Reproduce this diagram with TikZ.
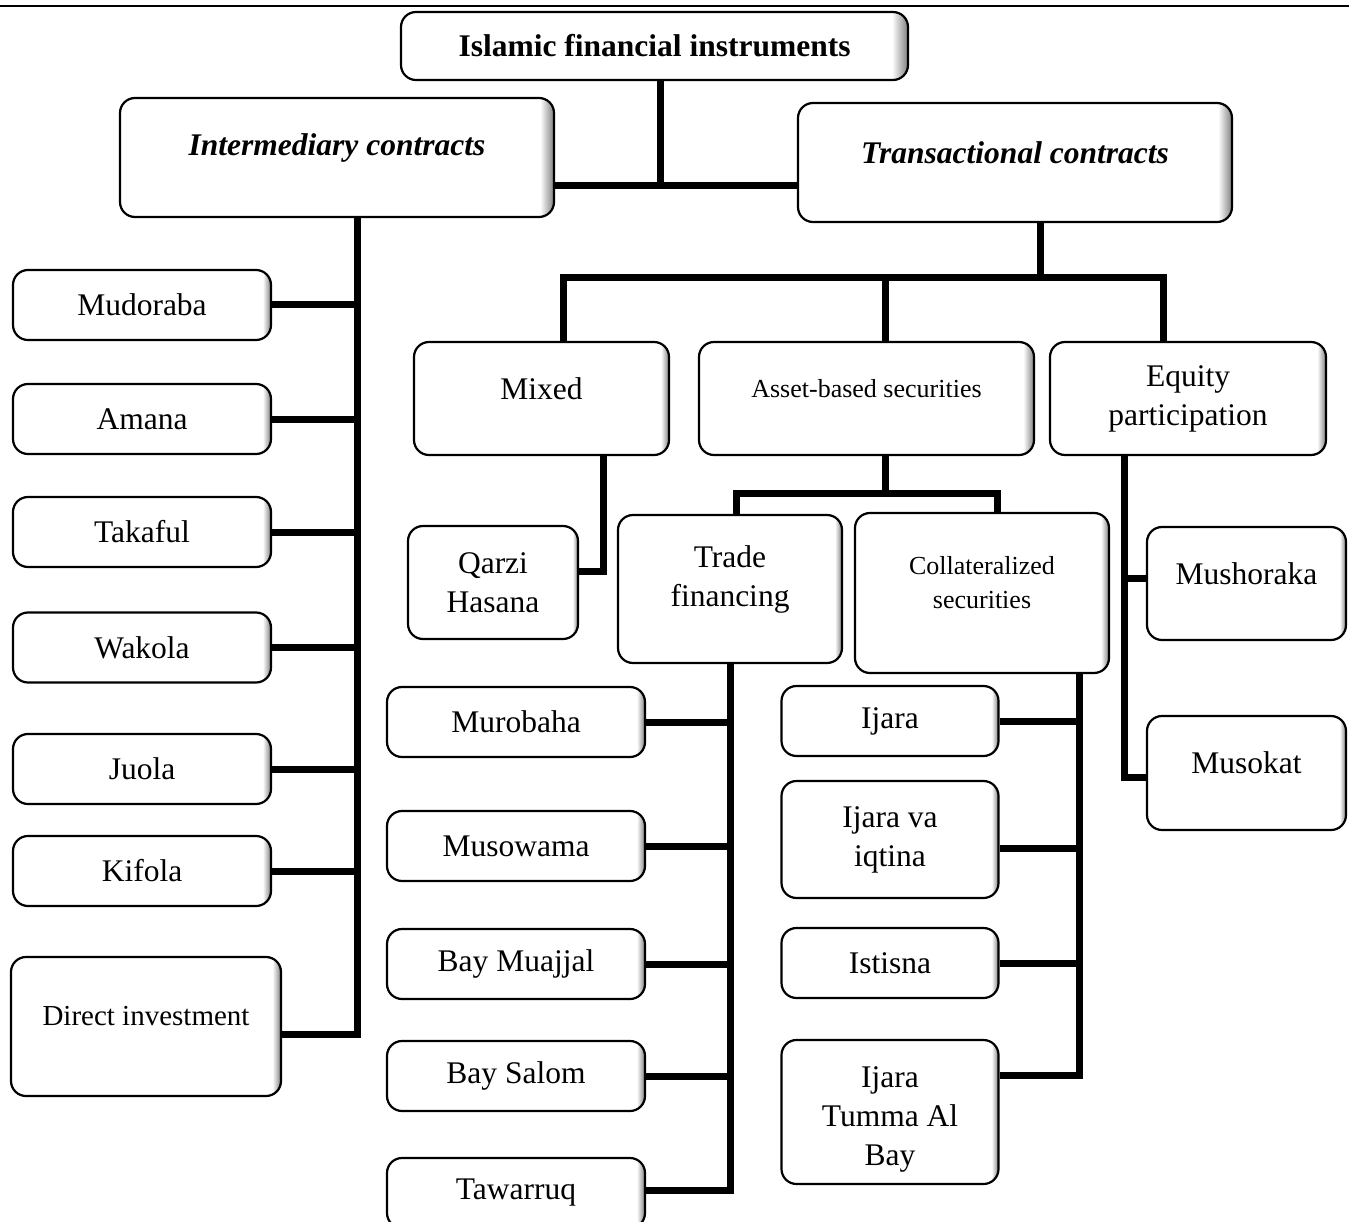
\documentclass[tikz,border=0pt]{standalone}
\usepackage{fontspec}
\setmainfont{Liberation Serif}
\usetikzlibrary{calc}

\pgfdeclarehorizontalshading{boxglow}{100bp}{color(0bp)=(white); color(73.4bp)=(white); color(75bp)=(black!50); color(100bp)=(black!50)}

\tikzset{
	box/.style={draw, line width=2.2pt, rounded corners=15pt, shading=boxglow, inner sep=0pt, align=center},
	conn/.style={line width=7pt},
	lift/.style={label={[align=center,yshift=10pt]center:#1}},
	smalltext/.style={font=\fontsize{26}{34}\selectfont},
}

\begin{document}
\begin{tikzpicture}[x=1pt,y=-1pt,font=\fontsize{31.5}{39}\selectfont]
	\useasboundingbox (0,0) rectangle (1349,1222);
	\draw[line width=2pt] (0,6) -- (1349,6);
	
	% top levels
	\node[box, minimum width=507, minimum height=68] (title) at (654.5,46) {\bfseries Islamic financial instruments};
	\node[box, minimum width=434, minimum height=119, lift={\bfseries\itshape Intermediary contracts}] (inter) at (337,157.5) {};
	\node[box, minimum width=434, minimum height=119, lift={\bfseries\itshape Transactional contracts}] (trans) at (1015,162.5) {};
	\coordinate (hub) at (660,186);
	\draw[conn] (title.south -| hub) -- (hub);
	\draw[conn] (inter.east |- hub) -- (trans.west |- hub);
	
	% intermediary contracts
	\foreach \n/\t/\y in {mudoraba/Mudoraba/305, amana/Amana/419, takaful/Takaful/532, wakola/Wakola/647.5, juola/Juola/769, kifola/Kifola/871}
		\node[box, minimum width=258, minimum height=70] (\n) at (142,\y) {\t};
	\node[box, minimum width=270, minimum height=139, label={[yshift=10pt,font=\fontsize{29}{36}\selectfont]center:Direct investment}] (direct) at (146,1026.5) {};
	\coordinate (ltop) at ([xshift=20]inter.south);
	\foreach \n in {mudoraba,amana,takaful,wakola,juola,kifola}
		\draw[conn] (\n.east) -- (\n.east -| ltop);
	\draw[conn] (ltop) |- ([yshift=-7.5]direct.east);
	
	% transactional contracts
	\node[box, minimum width=255, minimum height=113, lift=Mixed] (mixed) at (541.5,398.5) {};
	\node[box, minimum width=335, minimum height=113, label={[smalltext,yshift=10pt]center:Asset-based securities}] (asset) at (866.5,398.5) {};
	\node[box, minimum width=276, minimum height=113] (equity) at (1188,398.5) {Equity\\participation};
	\coordinate (ttop) at ([xshift=25]trans.south);
	\coordinate (mixtop) at ([xshift=21.5]mixed.north);
	\coordinate (asstop) at ([xshift=18.5]asset.north);
	\coordinate (eqtop) at ([xshift=-25]equity.north);
	\coordinate (tbar) at (0,277.5);
	\draw[conn] (mixtop) -- (mixtop |- tbar) -- (eqtop |- tbar) -- (eqtop);
	\draw[conn] (asstop) -- (asstop |- tbar);
	\draw[conn] (ttop) -- (ttop |- tbar);
	
	% mixed
	\node[box, minimum width=170, minimum height=113] (qarzi) at (493,582.5) {Qarzi\\Hasana};
	\coordinate (mixbot) at ([xshift=62]mixed.south);
	\draw[conn] (mixbot) |- ([yshift=11]qarzi.east);
	
	% asset-based securities
	\node[box, minimum width=224, minimum height=148, lift={Trade\\financing}] (trade) at (730,589) {};
	\node[box, minimum width=254, minimum height=160, label={[smalltext,align=center,yshift=10pt]center:Collateralized\\securities}] (coll) at (982,593) {};
	\coordinate (abar) at (0,493.5);
	\coordinate (assbot) at ([xshift=18.5]asset.south);
	\coordinate (tradetop) at ([xshift=6]trade.north);
	\coordinate (colltop) at ([xshift=15]coll.north);
	\draw[conn] (assbot) -- (assbot |- abar);
	\draw[conn] (tradetop) -- (tradetop |- abar) -- (colltop |- abar) -- (colltop);
	
	% trade financing
	\foreach \n/\t/\y in {murobaha/Murobaha/722, musowama/Musowama/846, baymuajjal/Bay Muajjal/964, baysalom/Bay Salom/1076, tawarruq/Tawarruq/1193}
		\node[box, minimum width=258, minimum height=70] (\n) at (516,\y) {\t};
	\foreach \n in {murobaha,musowama,baymuajjal,baysalom}
		\draw[conn] (\n.east) -- (\n.east -| trade.south);
	\draw[conn] (trade.south) |- ([yshift=3]tawarruq.east);
	
	% collateralized securities
	\node[box, minimum width=217, minimum height=70] (ijara) at (890,721) {Ijara};
	\node[box, minimum width=217, minimum height=117] (iqtina) at (890,839.5) {Ijara va\\iqtina};
	\node[box, minimum width=217, minimum height=70] (istisna) at (890,963) {Istisna};
	\node[box, minimum width=217, minimum height=144, label={[align=center,yshift=-7pt]center:Ijara\\Tumma Al\\Bay}] (tumma) at (890,1112) {};
	\coordinate (collbot) at ([xshift=97]coll.south);
	\draw[conn] (ijara.east) -- (ijara.east -| collbot);
	\draw[conn] ([yshift=-8.5]iqtina.east) -- ([yshift=-8.5]iqtina.east -| collbot);
	\draw[conn] (istisna.east) -- (istisna.east -| collbot);
	\draw[conn] (collbot) |- ([yshift=37]tumma.east);
	
	% equity participation
	\node[box, minimum width=199, minimum height=113, lift=Mushoraka] (mushoraka) at (1246.5,583.5) {};
	\node[box, minimum width=199, minimum height=114, lift=Musokat] (musokat) at (1246.5,773) {};
	\coordinate (eqbot) at ([xshift=-64]equity.south);
	\draw[conn] ([yshift=5]mushoraka.west) -- ([yshift=5]mushoraka.west -| eqbot);
	\draw[conn] (eqbot) |- ([yshift=-4]musokat.west);
\end{tikzpicture}
\end{document}
